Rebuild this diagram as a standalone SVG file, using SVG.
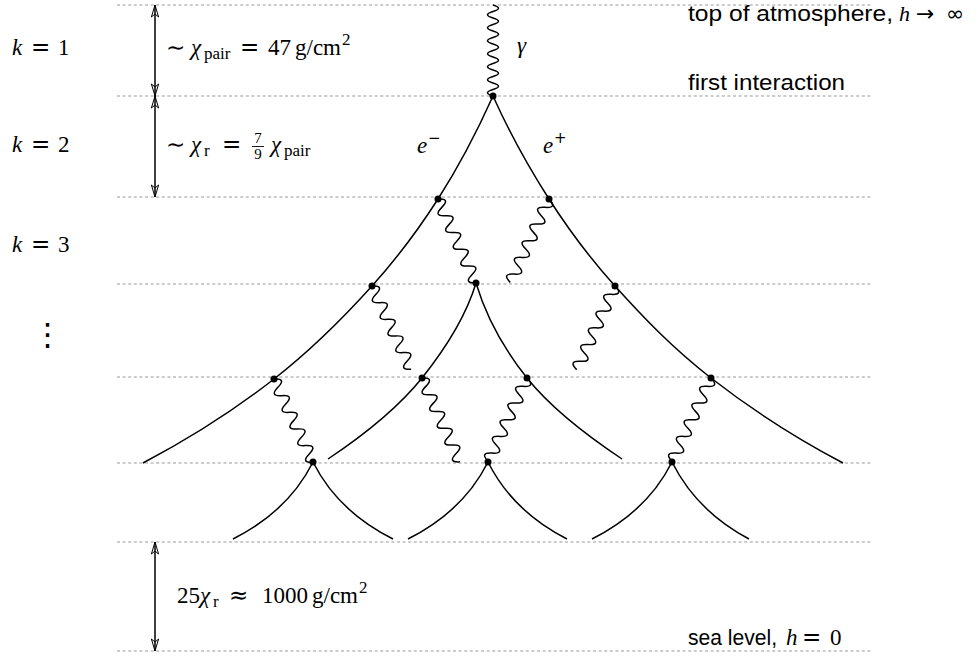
<svg xmlns="http://www.w3.org/2000/svg" width="978" height="659" viewBox="0 0 978 659">
<style>
.dash{stroke:#999;stroke-width:1.2;stroke-dasharray:3 2.6;fill:none}
.el{stroke:#000;stroke-width:1.5;fill:none}
.ph{stroke:#000;stroke-width:1.5;fill:none}
.dot{fill:#000}
.dim{stroke:#000;stroke-width:1.5;fill:none;marker-start:url(#ah);marker-end:url(#ah)}
.m{font-family:"Liberation Serif","Times New Roman",serif;font-size:23px;fill:#000}
.i{font-style:italic}
.op{font-family:"DejaVu Sans",sans-serif;font-size:23px}
.s{font-family:"Liberation Sans",Arial,sans-serif;font-size:22px;fill:#000}
.sub{font-size:17px}
</style>
<defs>
<marker id="ah" viewBox="-13 -5 14 10" refX="0" refY="0" markerWidth="14" markerHeight="10" orient="auto-start-reverse" markerUnits="userSpaceOnUse">
<path d="M0,0 L-12,-3.6 L-9,0 L-12,3.6 Z" fill="none" stroke="#000" stroke-width="1"/>
</marker>
<path id="wd" d="M0,0 q4.6,-12 9.2,0 t9.2,0 t9.2,0 t9.2,0 t9.2,0 t9.2,0 t9.2,0 t9.2,0 t9.2,0 t9.2,0"/>
</defs>
<g id="levels">
<line class="dash" x1="117" y1="5" x2="871" y2="5"/>
<line class="dash" x1="117" y1="96" x2="871" y2="96"/>
<line class="dash" x1="117" y1="197" x2="871" y2="197"/>
<line class="dash" x1="117" y1="284" x2="871" y2="284"/>
<line class="dash" x1="117" y1="377" x2="871" y2="377"/>
<line class="dash" x1="117" y1="463" x2="871" y2="463"/>
<line class="dash" x1="117" y1="542" x2="871" y2="542"/>
<line class="dash" x1="117" y1="651" x2="871" y2="651"/>
</g>
<g id="dimensions">
<line class="dim" x1="155" y1="5" x2="155" y2="96"/>
<line class="dim" x1="155" y1="96" x2="155" y2="197"/>
<line class="dim" x1="155" y1="542" x2="155" y2="651"/>
</g>
<g id="connectors">
<path class="el" d="M493,96 C477.6,130.3 460,164.7 438,199 C419.4,228 398.1,257 372,286 C344.1,317 313.7,348 274,379 C238.2,407 196.2,435 143,463"/>
<path class="el" d="M493,96 C508.4,130.3 527,164.7 549,199 C567.6,228 588.9,257 615,286 C642.6,316.7 671.7,347.3 711,378 C747.3,406.3 789.2,434.7 843,463"/>
<path class="el" d="M476,283 C466.5,314.7 447.3,346.3 422,378 C400.4,405 368.5,432 328,459"/>
<path class="el" d="M476,283 C485.5,314.7 501.7,346.3 527,378 C548.6,405 581.5,432 622,459"/>
<path class="el" d="M313,462 Q288.3,511.3 233,539"/>
<path class="el" d="M313,462 Q337.7,511.3 393,539"/>
<path class="el" d="M488,462 Q463.3,511.3 408,539"/>
<path class="el" d="M488,462 Q512.7,511.3 567,539"/>
<path class="el" d="M672,462 Q647.3,511.3 592,539"/>
<path class="el" d="M672,462 Q696.7,511.3 749,539"/>
<path class="ph" transform="translate(493,5) rotate(90)" d="M0,0 q3.25,-11 6.5,0 t6.5,0 t6.5,0 t6.5,0 t6.5,0 t6.5,0 t6.5,0 t6.5,0 t6.5,0 t6.5,0 t6.5,0 t6.5,0 t6.5,0 t6.5,0"/>
<use href="#wd" class="ph" transform="translate(438,199) rotate(65.66)"/>
<use href="#wd" class="ph" transform="translate(549,199) rotate(114.9)"/>
<use href="#wd" class="ph" transform="translate(372,286) rotate(64.83)"/>
<use href="#wd" class="ph" transform="translate(615,286) rotate(114.6)"/>
<use href="#wd" class="ph" transform="translate(274,379) rotate(64.83)"/>
<use href="#wd" class="ph" transform="translate(422,378) rotate(65.66)"/>
<use href="#wd" class="ph" transform="translate(527,378) rotate(114.9)"/>
<use href="#wd" class="ph" transform="translate(711,378) rotate(114.9)"/>
</g>
<g id="v0"><circle class="dot" cx="493" cy="96" r="3.5"/></g>
<g id="v1a"><circle class="dot" cx="438" cy="199" r="3.5"/></g>
<g id="v1b"><circle class="dot" cx="549" cy="199" r="3.5"/></g>
<g id="v2a"><circle class="dot" cx="372" cy="286" r="3.5"/></g>
<g id="v2b"><circle class="dot" cx="476" cy="283" r="3.5"/></g>
<g id="v2c"><circle class="dot" cx="615" cy="286" r="3.5"/></g>
<g id="v3a"><circle class="dot" cx="274" cy="379" r="3.5"/></g>
<g id="v3b"><circle class="dot" cx="422" cy="378" r="3.5"/></g>
<g id="v3c"><circle class="dot" cx="527" cy="378" r="3.5"/></g>
<g id="v3d"><circle class="dot" cx="711" cy="378" r="3.5"/></g>
<g id="v4a"><circle class="dot" cx="313" cy="462" r="3.5"/></g>
<g id="v4b"><circle class="dot" cx="488" cy="462" r="3.5"/></g>
<g id="v4c"><circle class="dot" cx="672" cy="462" r="3.5"/></g>
<g id="labels">
<text class="m" y="55"><tspan class="i" x="12">k</tspan><tspan class="op" x="31">=</tspan><tspan x="58">1</tspan></text>
<text class="m" y="152"><tspan class="i" x="12">k</tspan><tspan class="op" x="31">=</tspan><tspan x="58">2</tspan></text>
<text class="m" y="252"><tspan class="i" x="12">k</tspan><tspan class="op" x="31">=</tspan><tspan x="58">3</tspan></text>
<text x="32" y="345" style="font-family:'DejaVu Sans',sans-serif;font-size:31px">⋮</text>
<text class="m" y="55"><tspan class="op" x="166">∼</tspan><tspan class="i" x="191">χ</tspan><tspan class="sub" x="204" y="59">pair</tspan><tspan class="op" x="240" y="55">=</tspan><tspan x="268">47</tspan><tspan x="295">g/cm</tspan><tspan class="sub" x="342" y="45">2</tspan></text>
<text class="m" y="152"><tspan class="op" x="166">∼</tspan><tspan class="i" x="191">χ</tspan><tspan class="sub" x="204" y="156">r</tspan><tspan class="op" x="222" y="152">=</tspan><tspan x="271" class="i">χ</tspan><tspan class="sub" x="284" y="156">pair</tspan></text>
<text class="m" style="font-size:15px" text-anchor="middle"><tspan x="258" y="143">7</tspan><tspan x="258" y="159">9</tspan></text>
<line x1="252" y1="146.5" x2="264" y2="146.5" stroke="#000" stroke-width="0.9"/>
<text class="m i" x="517" y="53">γ</text>
<text class="m" y="153"><tspan class="i" x="417">e</tspan><tspan class="op" x="428" y="143" style="font-size:15px">−</tspan></text>
<text class="m" y="153"><tspan class="i" x="543">e</tspan><tspan class="op" x="554" y="143" style="font-size:15px">+</tspan></text>
<text class="m" y="603"><tspan x="177">25</tspan><tspan class="i" x="200">χ</tspan><tspan class="sub" x="213" y="607">r</tspan><tspan class="op" x="229" y="603">≈</tspan><tspan x="262">1000</tspan><tspan x="312">g/cm</tspan><tspan class="sub" x="359" y="593">2</tspan></text>
<text class="s" y="21"><tspan x="688" textLength="205" lengthAdjust="spacingAndGlyphs">top of atmosphere,</tspan></text>
<text class="m" y="21" style="font-size:22px"><tspan class="i" x="899">h</tspan><tspan class="op" x="916" style="font-size:22px">→</tspan><tspan class="op" x="946" style="font-size:22px">∞</tspan></text>
<text class="s" x="688" y="90" textLength="157" lengthAdjust="spacingAndGlyphs">first interaction</text>
<text class="s" y="645"><tspan x="688" textLength="89" lengthAdjust="spacingAndGlyphs">sea level,</tspan></text>
<text class="m" y="645"><tspan class="i" x="786">h</tspan><tspan class="op" x="802">=</tspan><tspan x="830">0</tspan></text>
</g>
</svg>
